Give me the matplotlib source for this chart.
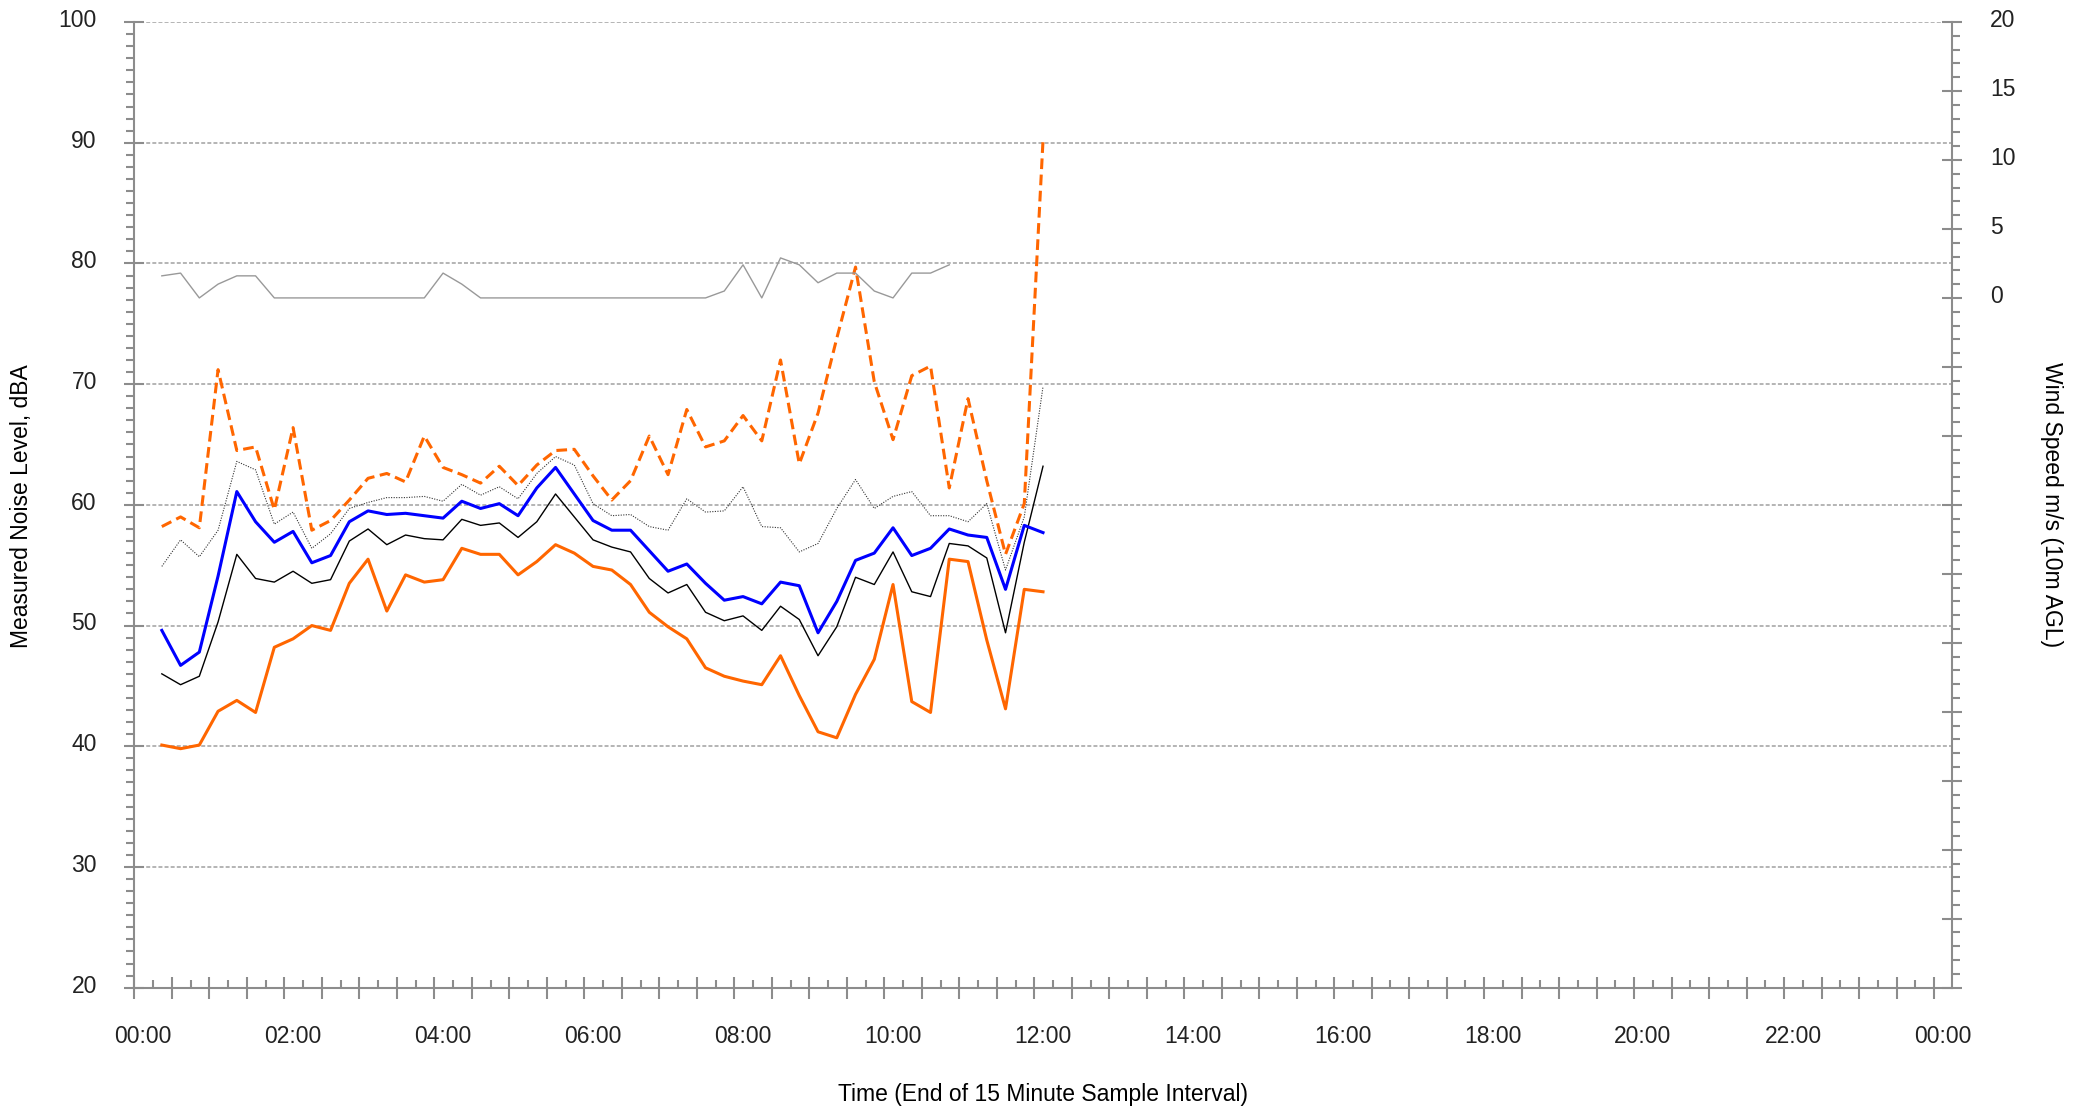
import numpy as np
import matplotlib.pyplot as plt
from matplotlib.ticker import MultipleLocator, FixedLocator, FuncFormatter
from matplotlib.transforms import ScaledTranslation

plt.rcParams['font.family'] = ['Liberation Sans', 'DejaVu Sans']

# end of each 15 minute sample interval
times = ['00:15', '00:30', '00:45', '01:00', '01:15', '01:30', '01:45', '02:00',
         '02:15', '02:30', '02:45', '03:00', '03:15', '03:30', '03:45', '04:00',
         '04:15', '04:30', '04:45', '05:00', '05:15', '05:30', '05:45', '06:00',
         '06:15', '06:30', '06:45', '07:00', '07:15', '07:30', '07:45', '08:00',
         '08:15', '08:30', '08:45', '09:00', '09:15', '09:30', '09:45', '10:00',
         '10:15', '10:30', '10:45', '11:00', '11:15', '11:30', '11:45', '12:00']

lmax = [58.2, 59.0, 58.1, 71.2, 64.5, 64.8, 59.6, 66.4, 57.9, 58.7, 60.4, 62.2,
        62.6, 61.9, 65.7, 63.1, 62.5, 61.8, 63.2, 61.6, 63.3, 64.5, 64.6, 62.4,
        60.4, 62.0, 65.7, 62.5, 67.9, 64.8, 65.3, 67.4, 65.3, 72.0, 63.4, 67.6,
        73.8, 79.7, 70.2, 65.4, 70.7, 71.5, 61.4, 68.8, 62.0, 55.9, 60.1, 90.2]
l10 = [54.9, 57.1, 55.7, 57.9, 63.6, 62.9, 58.4, 59.4, 56.4, 57.6, 59.7, 60.2,
       60.6, 60.6, 60.7, 60.3, 61.7, 60.8, 61.5, 60.5, 62.6, 64.0, 63.3, 60.1,
       59.1, 59.2, 58.2, 57.9, 60.5, 59.4, 59.5, 61.5, 58.2, 58.1, 56.1, 56.8,
       59.7, 62.1, 59.7, 60.7, 61.1, 59.1, 59.1, 58.6, 60.1, 54.6, 59.0, 69.8]
leq = [49.6, 46.7, 47.8, 54.1, 61.1, 58.6, 56.9, 57.8, 55.2, 55.8, 58.6, 59.5,
       59.2, 59.3, 59.1, 58.9, 60.3, 59.7, 60.1, 59.1, 61.4, 63.1, 60.9, 58.7,
       57.9, 57.9, 56.2, 54.5, 55.1, 53.5, 52.1, 52.4, 51.8, 53.6, 53.3, 49.4,
       52.0, 55.4, 56.0, 58.1, 55.8, 56.4, 58.0, 57.5, 57.3, 53.0, 58.3, 57.7]
l90 = [46.0, 45.1, 45.8, 50.3, 55.9, 53.9, 53.6, 54.5, 53.5, 53.8, 57.0, 58.0,
       56.7, 57.5, 57.2, 57.1, 58.8, 58.3, 58.5, 57.3, 58.6, 60.9, 59.0, 57.1,
       56.5, 56.1, 53.9, 52.7, 53.4, 51.1, 50.4, 50.8, 49.6, 51.6, 50.5, 47.5,
       49.9, 54.0, 53.4, 56.1, 52.8, 52.4, 56.8, 56.6, 55.6, 49.4, 56.9, 63.2]
lmin = [40.1, 39.8, 40.1, 42.9, 43.8, 42.8, 48.2, 48.9, 50.0, 49.6, 53.5, 55.5,
        51.2, 54.2, 53.6, 53.8, 56.4, 55.9, 55.9, 54.2, 55.3, 56.7, 56.0, 54.9,
        54.6, 53.4, 51.1, 49.9, 48.9, 46.5, 45.8, 45.4, 45.1, 47.5, 44.2, 41.2,
        40.7, 44.3, 47.2, 53.4, 43.7, 42.8, 55.5, 55.3, 48.8, 43.1, 53.0, 52.8]
# wind only logged up to 10:45
wind = [1.6, 1.8, 0.0, 1.0, 1.6, 1.6, 0.0, 0.0, 0.0, 0.0, 0.0, 0.0,
        0.0, 0.0, 0.0, 1.8, 1.0, 0.0, 0.0, 0.0, 0.0, 0.0, 0.0, 0.0,
        0.0, 0.0, 0.0, 0.0, 0.0, 0.0, 0.5, 2.4, 0.0, 2.9, 2.4, 1.1,
        1.8, 1.8, 0.5, 0.0, 1.8, 1.8, 2.4]

x_labels = ['00:00', '02:00', '04:00', '06:00', '08:00', '10:00', '12:00',
            '14:00', '16:00', '18:00', '20:00', '22:00', '00:00']
right_labels = ['0', '5', '10', '15', '20']

hrs = np.array([int(t[:2]) + int(t[3:]) / 60 for t in times])
grey = '#8c8c8c'
txt = '#222222'
fs = 16.5

fig = plt.figure(figsize=(20.89, 11.12), dpi=100)
ax = fig.add_axes([0.0643, 0.1118, 0.8701, 0.8684])
ax2 = ax.twinx()

ax.plot(hrs, l10, color='#333333', lw=0.8, ls=(0, (1, 1.3)))
ax.plot(hrs, l90, color='black', lw=1.0)
ax.plot(hrs, lmin, color='#FF6600', lw=2.2)
ax.plot(hrs, leq, color='#0000FF', lw=2.2)
ax.plot(hrs, lmax, color='#FF6600', lw=2.2, ls=(0, (3.5, 1.8)))
ax2.plot(hrs[:len(wind)], wind, color='#999999', lw=1.0)

# x axis: ticks sit ~7 minutes left of the labels, like the source
shift = -7 / 60
ax.set_xlim(shift, 24.12)
ax.xaxis.set_major_locator(FixedLocator([shift + 0.5 * k for k in range(49)]))
ax.xaxis.set_minor_locator(FixedLocator([shift + 0.25 + 0.5 * k for k in range(48)]))
ax.tick_params(axis='x', which='major', direction='inout', length=15.5, width=1.5,
               color=grey, labelbottom=False)
ax.tick_params(axis='x', which='minor', direction='in', length=6, width=1.5, color=grey)

sec = ax.secondary_xaxis('bottom')
sec.set_xticks(list(range(0, 25, 2)), labels=x_labels)
sec.tick_params(length=0, pad=27, labelsize=fs, labelcolor=txt)
sec.spines['bottom'].set_visible(False)

# left axis
ax.set_ylim(20, 100)
ax.yaxis.set_major_locator(MultipleLocator(10))
ax.yaxis.set_minor_locator(MultipleLocator(1))
ax.tick_params(axis='y', which='major', direction='inout', length=15, width=1.5,
               color=grey, pad=19.5, labelsize=fs, labelcolor=txt)
ax.tick_params(axis='y', which='minor', direction='out', length=5.5, width=1.5, color=grey)
ax.yaxis.grid(True, which='major', ls=(0, (2.6, 1.4)), color='#a0a0a0', lw=1.1)
ax.set_axisbelow(True)

# right axis (wind)
ax2.set_ylim(-50, 20)
ax2.yaxis.set_major_locator(MultipleLocator(5))
ax2.yaxis.set_minor_locator(MultipleLocator(1))
ax2.yaxis.set_major_formatter(FuncFormatter(
    lambda v, p: right_labels[int(v // 5)] if 0 <= v <= 20 else ''))
ax2.tick_params(axis='y', which='major', direction='inout', length=15, width=1.5,
                color=grey, pad=20, labelsize=fs, labelcolor=txt)
ax2.tick_params(axis='y', which='minor', direction='out', length=6, width=1.5, color=grey)

for s in ['top', 'right']:
    ax.spines[s].set_visible(False)
for s in ['top', 'left', 'bottom']:
    ax2.spines[s].set_visible(False)
for a, s in [(ax, 'left'), (ax, 'bottom'), (ax2, 'right')]:
    a.spines[s].set_color(grey)
    a.spines[s].set_linewidth(1.5)

# value labels sit a few pixels above their ticks in the source
lift = ScaledTranslation(0, 3 / 72, fig.dpi_scale_trans)
for t in ax.yaxis.get_major_ticks():
    t.label1.set_transform(t.label1.get_transform() + lift)
for t in ax2.yaxis.get_major_ticks():
    t.label2.set_transform(t.label2.get_transform() + lift)

fig.text(22 / 2089, 1 - 506 / 1112, 'Measured Noise Level, dBA', rotation=90,
         ha='center', va='center', fontsize=fs, color='black')
fig.text(2052 / 2089, 1 - 505 / 1112, 'Wind Speed m/s (10m AGL)', rotation=270,
         ha='center', va='center', fontsize=fs, color='black')
fig.text(1043 / 2089, 1 - 1095 / 1112, 'Time (End of 15 Minute Sample Interval)',
         ha='center', va='center', fontsize=fs, color='black')

fig.savefig('out.png', dpi=100)
